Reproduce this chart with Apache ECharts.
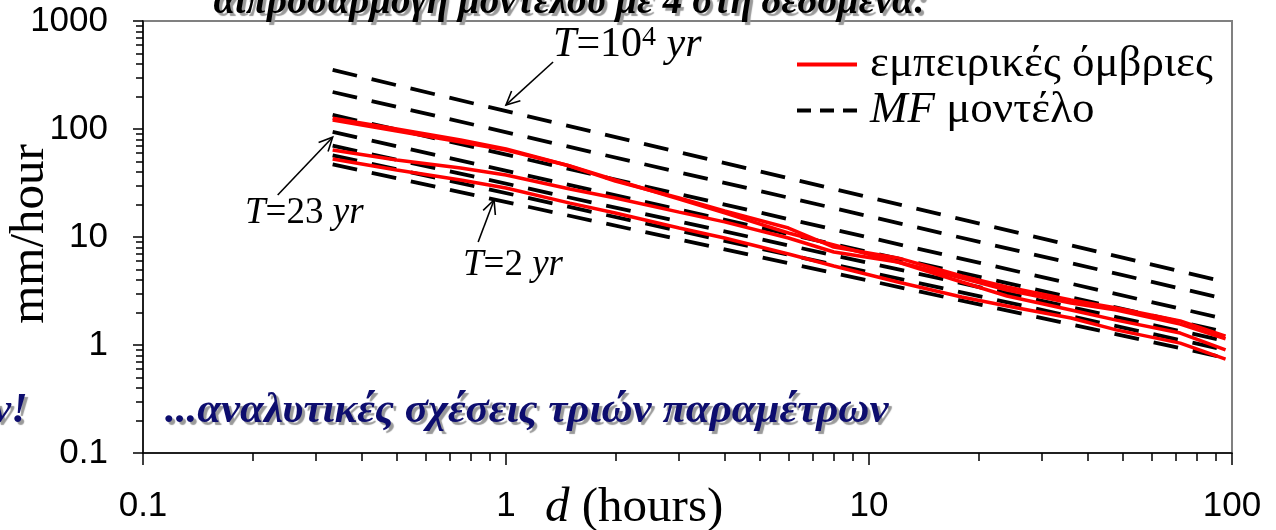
<!DOCTYPE html>
<html>
<head>
<meta charset="utf-8">
<script src="https://cdn.jsdelivr.net/npm/echarts@6/dist/echarts.min.js"></script>
<style>
  html, body { margin: 0; padding: 0; background: #fff; }
  #chart { width: 1276px; height: 530px; }
</style>
</head>
<body>
<div id="chart"></div>
<script>
// durations (hours) of the empirical curves
const durations = [0.333, 0.5, 0.75, 1, 1.5, 2, 3, 4, 6, 8, 12, 18, 24, 36, 48, 72, 96];
// empirical IDF curves, mm/hour
const empA1 = [121, 95.8, 75.8, 63.9, 45.4, 33.7, 22.5, 16.7, 10.9, 8.43, 5.87, 4.17, 3.23, 2.45, 2.11, 1.56, 1.14];
const empA2 = [126, 100, 79, 65.3, 45.4, 33, 23, 17.4, 12.1, 8.07, 6.4, 4.35, 3.44, 2.61, 2.2, 1.67, 1.21];
const empB = [63.9, 51.6, 43.5, 37.5, 27.8, 23, 17.0, 13.8, 9.79, 7.26, 5.87, 3.83, 2.84, 2.11, 1.70, 1.29, 0.90];
const empC = [52.7, 41.7, 33.7, 28.4, 20.6, 16.7, 12.1, 9.79, 6.96, 5.39, 3.83, 2.78, 2.30, 1.78, 1.38, 1.04, 0.74];
// MF model curves (straight in log-log), first and last duration
const modelD = [0.333, 96];
const modelStart = [352, 220, 135, 94, 70, 57, 47];
const modelEnd = [3.83, 2.67, 1.74, 1.32, 1.09, 0.90, 0.76];

// minor tick values
const xMinor = [0.2, 0.3, 0.4, 0.5, 0.6, 0.7, 0.8, 0.9, 2, 3, 4, 5, 6, 7, 8, 9, 20, 30, 40, 50, 60, 70, 80, 90];
const yMinor = [0.2, 0.3, 0.4, 0.5, 0.6, 0.7, 0.8, 0.9, 2, 3, 4, 5, 6, 7, 8, 9,
  20, 30, 40, 50, 60, 70, 80, 90, 200, 300, 400, 500, 600, 700, 800, 900];

// annotations (data coordinates)
const noteLabels = ['{i|T}{n|=10}{s|4}{n| }{i|yr}', '{i|T}{n|=23 }{i|yr}', '{i|T}{n|=2 }{i|yr}'];
const noteAt = [[1.348, 600], [0.191, 16.7], [0.761, 5.5]];
const arrowFrom = [[1.348, 417], [0.235, 24.5], [0.838, 9.0]];
const arrowTo = [[1.0, 167], [0.333, 84], [0.927, 22.0]];

const EMP = 'εμπειρικές όμβριες';
const MF = 'MF μοντέλο';
const serif = 'Liberation Serif, Times New Roman, serif';
const sans = 'Liberation Sans, Arial, sans-serif';

const series = [];
modelStart.forEach((s, k) => {
  series.push({
    name: MF,
    type: 'line',
    data: [[modelD[0], s], [modelD[1], modelEnd[k]]],
    symbol: 'none',
    silent: true,
    z: 2,
    itemStyle: { color: '#000' },
    lineStyle: { color: '#000', width: 3.8, type: [25, 15] }
  });
});
[empA1, empA2, empB, empC].forEach(arr => {
  series.push({
    name: EMP,
    type: 'line',
    data: durations.map((d, i) => [d, arr[i]]),
    symbol: 'none',
    silent: true,
    z: 3,
    itemStyle: { color: '#ff0000' },
    lineStyle: { color: '#ff0000', width: 3.5 }
  });
});

const fmt = v => String(Number((+v).toPrecision(6)));

const chart = echarts.init(document.getElementById('chart'));

const option = {
  animation: false,
  backgroundColor: '#fff',
  grid: {
    left: 143, top: 21, width: 1089, height: 432,
    containLabel: false, outerBoundsMode: 'none',
    show: true, borderColor: '#808080', borderWidth: 2, backgroundColor: 'transparent'
  },
  legend: {
    orient: 'vertical',
    left: 795, top: 42, padding: 0,
    itemWidth: 60, itemHeight: 16, itemGap: 1,
    itemStyle: { opacity: 0 },
    textStyle: {
      fontFamily: serif, fontSize: 45, color: '#000', lineHeight: 42, padding: [0, 0, 0, 8],
      rich: {
        i: { fontFamily: serif, fontSize: 45, fontStyle: 'italic', color: '#000', lineHeight: 42 },
        n: { fontFamily: serif, fontSize: 45, color: '#000', lineHeight: 42 }
      }
    },
    formatter: name => name === MF ? '{i|MF}{n| μοντέλο}' : '{n|' + name + '}',
    data: [
      { name: EMP, itemStyle: { opacity: 0 }, lineStyle: { color: '#ff0000', width: 4 } },
      { name: MF, itemStyle: { opacity: 0 }, lineStyle: { color: '#000', width: 4, type: [14, 9] } }
    ]
  },
  xAxis: [
    {
      type: 'log', logBase: 10, min: 0.1, max: 100,
      axisLine: { onZero: false, lineStyle: { color: '#000', width: 1.5 } },
      axisTick: { length: 12, lineStyle: { color: '#000', width: 1.5 } },
      axisLabel: { margin: 36, fontFamily: sans, fontSize: 35, color: '#000', formatter: fmt },
      splitLine: { show: false }
    },
    {
      type: 'value', min: -1, max: 2, position: 'bottom',
      axisLine: { show: false, onZero: false },
      axisTick: { show: true, length: 8, customValues: xMinor.map(Math.log10), lineStyle: { color: '#000', width: 1.5 } },
      axisLabel: { show: false },
      splitLine: { show: false }
    }
  ],
  yAxis: [
    {
      type: 'log', logBase: 10, min: 0.1, max: 1000,
      axisLine: { onZero: false, lineStyle: { color: '#000', width: 1.5 } },
      axisTick: { length: 10, lineStyle: { color: '#000', width: 1.5 } },
      axisLabel: { margin: 35, fontFamily: sans, fontSize: 35, color: '#000', formatter: fmt },
      splitLine: { show: false }
    },
    {
      type: 'value', min: -1, max: 3, position: 'left',
      axisLine: { show: false, onZero: false },
      axisTick: { show: true, length: 7, customValues: yMinor.map(Math.log10), lineStyle: { color: '#000', width: 1.5 } },
      axisLabel: { show: false },
      splitLine: { show: false }
    }
  ],
  series: series
};

chart.setOption(option);

// annotations placed through the chart's own scales
const toPx = p => chart.convertToPixel({ seriesIndex: 0 }, p);
const noteRich = size => ({
  i: { fontFamily: serif, fontSize: size, fontStyle: 'italic', fill: '#000' },
  n: { fontFamily: serif, fontSize: size, fill: '#000' },
  s: { fontFamily: serif, fontSize: Math.round(size * 0.66), fill: '#000', verticalAlign: 'top' }
});
const graphics = [];
noteLabels.forEach((txt, i) => {
  const size = i === 0 ? 42 : 37;
  const a = toPx(noteAt[i]);
  graphics.push({
    type: 'text', x: a[0], y: a[1], z: 10,
    style: { text: txt, rich: noteRich(size), fontFamily: serif, fontSize: size, fill: '#000', verticalAlign: 'middle' }
  });
  const f = toPx(arrowFrom[i]);
  const t = toPx(arrowTo[i]);
  graphics.push({
    type: 'line', z: 10,
    shape: { x1: f[0], y1: f[1], x2: t[0], y2: t[1] },
    style: { stroke: '#000', lineWidth: 1.6 }
  });
  const ang = Math.atan2(t[1] - f[1], t[0] - f[0]);
  const len = 15, spread = 0.45;
  graphics.push({
    type: 'polyline', z: 10,
    shape: { points: [
      [t[0] - len * Math.cos(ang - spread), t[1] - len * Math.sin(ang - spread)],
      [t[0], t[1]],
      [t[0] - len * Math.cos(ang + spread), t[1] - len * Math.sin(ang + spread)]
    ] },
    style: { stroke: '#000', lineWidth: 1.6, fill: null }
  });
});

// y axis title, rotated to read bottom-to-top
graphics.push({
  type: 'text', x: 30, y: 234, rotation: Math.PI / 2, z: 10,
  style: { text: 'mm/hour', fontFamily: serif, fontSize: 49, fill: '#000', align: 'center', verticalAlign: 'middle' }
});

const banner = {
  fontFamily: serif, fontWeight: 'bold', fontStyle: 'italic',
  textShadowColor: '#9a9a9a', textShadowOffsetX: 3, textShadowOffsetY: 3, textShadowBlur: 1
};
graphics.push({
  type: 'text', x: 570, y: 22, z: 10,
  style: Object.assign({ text: 'αιπροσαρμογή μοντέλου με 4 στη δεδομένα:', fontSize: 39, fill: '#000',
    align: 'center', verticalAlign: 'bottom' }, banner)
});
graphics.push({
  type: 'text', x: 165, y: 411, z: 10,
  style: Object.assign({ text: '...αναλυτικές σχέσεις τριών παραμέτρων', fontSize: 43, fill: '#0d0d6e',
    verticalAlign: 'middle' }, banner)
});
graphics.push({
  type: 'text', x: -8, y: 411, z: 10,
  style: Object.assign({ text: 'ν!', fontSize: 43, fill: '#0d0d6e', verticalAlign: 'middle' }, banner)
});
graphics.push({
  type: 'text', x: 545, y: 508, z: 10,
  style: {
    text: '{i|d}{n| (hours)}', verticalAlign: 'middle', fontFamily: serif, fontSize: 49, fill: '#000',
    rich: {
      i: { fontFamily: serif, fontSize: 49, fontStyle: 'italic', fill: '#000' },
      n: { fontFamily: serif, fontSize: 49, fill: '#000' }
    }
  }
});

chart.setOption({ graphic: graphics });
</script>
</body>
</html>
